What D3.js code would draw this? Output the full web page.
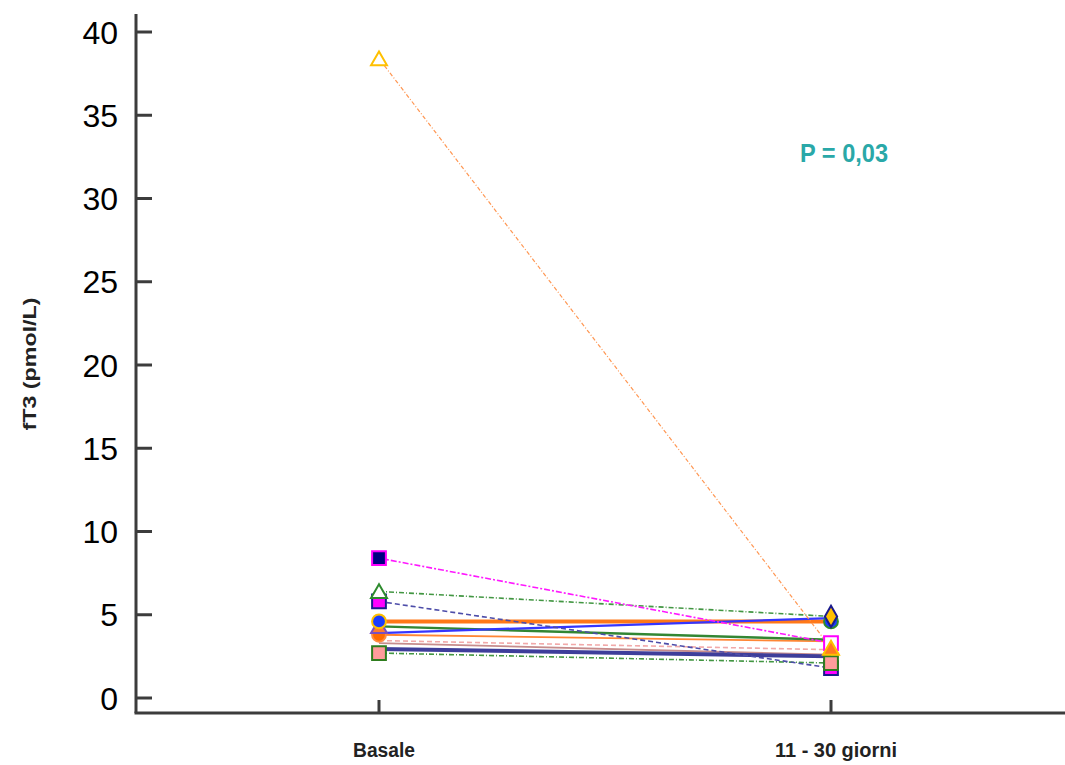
<!DOCTYPE html>
<html>
<head>
<meta charset="utf-8">
<script src="https://cdn.jsdelivr.net/npm/d3@7"></script>
<style>
  html, body { margin: 0; padding: 0; background: #ffffff; }
  svg { display: block; }
</style>
</head>
<body>
<svg id="chart" width="1065" height="765"></svg>
<script>
// Time points and paired fT3 values (pmol/L) for each patient
const categories = ["Basale", "11 - 30 giorni"];
const yTicks = [0, 5, 10, 15, 20, 25, 30, 35, 40];
const basale   = [38.4, 8.4, 6.4, 5.8, 4.6, 3.9, 4.3, 3.8, 3.45, 3.3, 2.95, 2.7];
const followUp = [3.0,  3.3, 4.9, 1.8, 4.6, 4.8, 3.5, 3.4, 2.9, 2.6, 2.5, 2.1];

// Line style of each patient
const lineColor = ["#ff8c40", "#ff00ff", "#2e8b2e", "#3a3aa0", "#ff6a00", "#2020ff", "#1e7a1e", "#ff7a20", "#f0a0a0", "#c08080", "#2a2a90", "#2e8b2e"];
const lineWidth = [1.2, 1.6, 1.6, 1.6, 4, 2.2, 2.4, 1.8, 1.6, 1.8, 4, 1.6];
const lineDash  = ["4 2 1 2", "6 2 2 2", "5 2 1 2", "5 3", null, null, null, null, "5 3", null, null, "5 2 1 2"];

// Marker style of each patient at baseline and at follow-up
const startShape = ["triangle", "square", "triangle", "square", "circle", "none", "triangle", "circle", "none", "none", "none", "square"];
const startFill  = ["#ffffff", "#000080", "#ffffff", "#ff00ff", "#1a3cff", "none", "#ff7a30", "#ff6a00", "none", "none", "none", "#ff9c9c"];
const startEdge  = ["#ffc000", "#ff00ff", "#2e8b2e", "#1a1a8c", "#ffc000", "none", "#7a50c0", "#ff8c40", "none", "none", "none", "#2e7d1e"];
const endShape   = ["triangle", "square", "diamond", "square", "circle", "none", "none", "none", "none", "none", "none", "square"];
const endFill    = ["#ff7a20", "#ffffff", "#ffc000", "#ff00ff", "#1a3cff", "none", "none", "none", "none", "none", "none", "#ff9c9c"];
const endEdge    = ["#ffc000", "#ff00ff", "#1a1a8c", "#1a1a8c", "#2e8b2e", "none", "none", "none", "none", "none", "none", "#2e7d1e"];

const svg = d3.select("#chart");

const x = d3.scalePoint().domain(categories).range([379, 831]);
const y = d3.scaleLinear().domain([0, 40]).range([698, 32]);

const axisColor = "#3c3c3c";
const axisX0 = 136, axisY0 = 713;

// Y axis with inward ticks
const yAxis = svg.append("g");
yAxis.append("line")
  .attr("x1", axisX0).attr("x2", axisX0).attr("y1", 14).attr("y2", axisY0)
  .attr("stroke", axisColor).attr("stroke-width", 3);
yAxis.selectAll("line.tick").data(yTicks).join("line")
  .attr("class", "tick")
  .attr("x1", axisX0).attr("x2", axisX0 + 16)
  .attr("y1", d => y(d)).attr("y2", d => y(d))
  .attr("stroke", axisColor).attr("stroke-width", 3);
yAxis.selectAll("text").data(yTicks).join("text")
  .attr("x", 118).attr("y", d => y(d) + 11.5)
  .attr("text-anchor", "end")
  .attr("font-family", "'Liberation Sans', Arial, sans-serif")
  .attr("font-size", 32)
  .attr("fill", "#000")
  .text(d => d);

// X axis with inward ticks
const xAxis = svg.append("g");
xAxis.append("line")
  .attr("x1", axisX0 - 1.5).attr("x2", 1065).attr("y1", axisY0).attr("y2", axisY0)
  .attr("stroke", axisColor).attr("stroke-width", 3);
xAxis.selectAll("line.tick").data(categories).join("line")
  .attr("class", "tick")
  .attr("x1", d => x(d)).attr("x2", d => x(d))
  .attr("y1", axisY0).attr("y2", axisY0 - 13)
  .attr("stroke", axisColor).attr("stroke-width", 3);
const xLabelLen = { "Basale": 62, "11 - 30 giorni": 122 };
xAxis.selectAll("text").data(categories).join("text")
  .attr("x", d => x(d) + 5).attr("y", 757)
  .attr("text-anchor", "middle")
  .attr("font-family", "'Liberation Sans Narrow', 'Liberation Sans', Arial, sans-serif")
  .attr("font-weight", "bold")
  .attr("font-size", 20)
  .attr("fill", "#222")
  .attr("textLength", d => xLabelLen[d])
  .attr("lengthAdjust", "spacingAndGlyphs")
  .text(d => d);

// Y axis title
svg.append("text")
  .attr("transform", "translate(36,364) rotate(-90)")
  .attr("text-anchor", "middle")
  .attr("font-family", "'Liberation Sans Narrow', 'Liberation Sans', Arial, sans-serif")
  .attr("font-weight", "bold")
  .attr("font-size", 18)
  .attr("fill", "#222")
  .attr("textLength", 133)
  .attr("lengthAdjust", "spacingAndGlyphs")
  .text("fT3 (pmol/L)");

// Paired observations
const pairs = basale.map((b, i) => ({ i, b, f: followUp[i] }));
const drawOrder = [4, 8, 9, 10, 11, 7, 6, 5, 3, 2, 1, 0];

const lines = svg.append("g").attr("opacity", 0.9);
lines.selectAll("line").data(drawOrder.map(i => pairs[i])).join("line")
  .attr("x1", x(categories[0])).attr("y1", d => y(d.b))
  .attr("x2", x(categories[1])).attr("y2", d => y(d.f))
  .attr("stroke", d => lineColor[d.i])
  .attr("stroke-width", d => lineWidth[d.i])
  .attr("stroke-dasharray", d => lineDash[d.i]);

const symbolType = {
  triangle: d3.symbolTriangle,
  square: d3.symbolSquare,
  diamond: d3.symbolDiamond,
  circle: d3.symbolCircle
};
const symbolSize = { triangle: 110, square: 190, diamond: 130, circle: 150 };

// Markers, stacked so the upper ones of each cluster sit on top
const startOrder = [11, 7, 6, 4, 3, 2, 1, 0];
const endOrder = [4, 2, 3, 11, 1, 0];
const marks = [];
startOrder.forEach(i => marks.push({ cat: categories[0], v: basale[i], shape: startShape[i], fill: startFill[i], edge: startEdge[i] }));
endOrder.forEach(i => marks.push({ cat: categories[1], v: followUp[i], shape: endShape[i], fill: endFill[i], edge: endEdge[i] }));

svg.append("g").selectAll("path").data(marks.filter(m => m.shape !== "none")).join("path")
  .attr("transform", d => `translate(${x(d.cat)},${y(d.v) + (d.shape === "triangle" ? 2 : 0)})`)
  .attr("d", d => d3.symbol(symbolType[d.shape], symbolSize[d.shape])())
  .attr("fill", d => d.fill)
  .attr("stroke", d => d.edge)
  .attr("stroke-width", 2);

// Significance annotation
svg.append("text")
  .attr("x", 800).attr("y", 162)
  .attr("font-family", "'Liberation Sans', Arial, sans-serif")
  .attr("font-weight", "bold")
  .attr("font-size", 25)
  .attr("fill", "#2aa8a8")
  .attr("textLength", 88)
  .attr("lengthAdjust", "spacingAndGlyphs")
  .text("P = 0,03");
</script>
</body>
</html>
